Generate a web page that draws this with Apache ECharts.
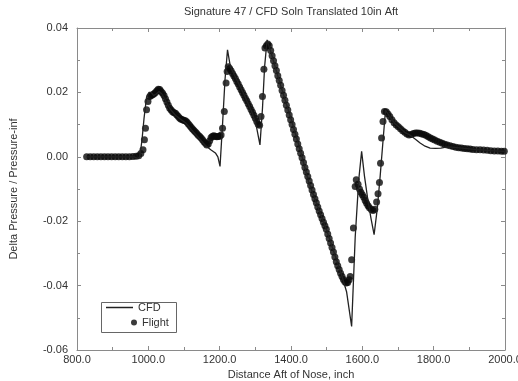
<!DOCTYPE html>
<html>
<head>
<meta charset="utf-8">
<script src="https://cdn.jsdelivr.net/npm/echarts@6/dist/echarts.min.js"></script>
<style>
html,body{margin:0;padding:0;background:#fff;}
#chart{width:518px;height:381px;}
</style>
</head>
<body>
<div id="chart"></div>
<script>
var titleText = 'Signature 47 / CFD Soln Translated 10in Aft';
var xAxisName = 'Distance Aft of Nose, inch';
var yAxisName = 'Delta Pressure / Pressure-inf';
var seriesNames = ['CFD', 'Flight'];

var cfdX = [827, 900, 960, 970, 976, 982, 988, 995, 1002, 1008, 1015, 1022, 1030, 1038, 1048, 1060, 1075, 1090, 1105, 1120, 1140, 1160, 1175, 1188, 1195, 1201, 1208, 1215, 1222, 1230, 1250, 1270, 1290, 1302, 1313, 1320, 1326, 1333, 1345, 1370, 1400, 1425, 1450, 1475, 1500, 1520, 1540, 1556, 1570, 1580, 1590, 1598, 1606, 1615, 1624, 1633, 1642, 1650, 1658, 1665, 1675, 1690, 1705, 1720, 1733, 1748, 1762, 1776, 1790, 1805, 1820, 1835, 1850, 1880, 1920, 1960, 2000];
var cfdY = [0.0, 0.0, 0.0, -0.0005, 0.0, 0.005, 0.012, 0.0185, 0.0200, 0.0200, 0.0190, 0.0195, 0.0203, 0.0195, 0.0175, 0.0150, 0.0130, 0.0117, 0.0105, 0.0085, 0.0060, 0.0035, 0.0022, 0.0012, 0.0, -0.003, 0.010, 0.024, 0.0332, 0.0280, 0.0235, 0.0190, 0.0140, 0.0100, 0.0037, 0.0150, 0.0280, 0.0363, 0.0320, 0.0225, 0.0118, 0.0025, -0.0080, -0.0155, -0.0228, -0.0295, -0.0360, -0.0420, -0.0527, -0.0250, -0.0071, 0.0017, -0.0060, -0.0130, -0.0190, -0.0242, -0.0160, -0.0060, 0.0050, 0.0145, 0.0128, 0.0105, 0.0090, 0.0075, 0.0068, 0.0055, 0.0043, 0.0033, 0.0027, 0.0026, 0.0027, 0.0030, 0.0030, 0.0027, 0.0022, 0.0019, 0.0017];

// Flight measurements: [distance (in), dP/P]
var flightPoints = [
  [827, 0.0], [837, 0.0], [847, 0.0], [857, 0.0], [867, 0.0], [877, 0.0], [887, 0.0], [897, 0.0],
  [907, 0.0], [917, 0.0], [927, 0.0], [937, 0.0], [947, 0.0], [957, 0.0001], [966, 0.0002], [973, 0.0003],
  [979, 0.0010], [985, 0.0022], [989, 0.0053], [992, 0.0089], [995, 0.0146], [999, 0.0172],
  [1004, 0.0187], [1008, 0.0190], [1012, 0.0193], [1016, 0.0196], [1020, 0.0200], [1024, 0.0205],
  [1028, 0.0210], [1032, 0.0209], [1036, 0.0203], [1040, 0.0197], [1044, 0.0190], [1048, 0.0180],
  [1052, 0.0170], [1056, 0.0160], [1060, 0.0151], [1064, 0.0145], [1068, 0.0140], [1072, 0.0137],
  [1076, 0.0135], [1080, 0.0130], [1084, 0.0125], [1088, 0.0120], [1092, 0.0117], [1096, 0.0115],
  [1100, 0.0113], [1104, 0.0112], [1108, 0.0108], [1112, 0.0103], [1116, 0.0097], [1120, 0.0092],
  [1124, 0.0086], [1128, 0.0082], [1132, 0.0077], [1136, 0.0072], [1140, 0.0067], [1144, 0.0063],
  [1148, 0.0058], [1152, 0.0053], [1156, 0.0047], [1160, 0.0042], [1164, 0.0037], [1168, 0.0040],
  [1172, 0.0050], [1176, 0.0060], [1180, 0.0064], [1184, 0.0065], [1188, 0.0063], [1192, 0.0062],
  [1196, 0.0063], [1200, 0.0064], [1204, 0.0068], [1208, 0.0089], [1213, 0.0141], [1218, 0.0229],
  [1221, 0.0265], [1224, 0.0280], [1228, 0.0274], [1232, 0.0267], [1236, 0.0259], [1240, 0.0251],
  [1244, 0.0243], [1248, 0.0234], [1252, 0.0226], [1256, 0.0217], [1260, 0.0208], [1264, 0.0200],
  [1268, 0.0191], [1272, 0.0182], [1276, 0.0174], [1280, 0.0165], [1284, 0.0156], [1288, 0.0147],
  [1292, 0.0138], [1296, 0.0129], [1300, 0.0120], [1304, 0.0110], [1308, 0.0101], [1312, 0.0098],
  [1316, 0.0125], [1320, 0.0187], [1324, 0.0272], [1327, 0.0338], [1331, 0.0345], [1335, 0.0350],
  [1339, 0.0345], [1343, 0.0330], [1347, 0.0314], [1351, 0.0298], [1355, 0.0283], [1359, 0.0268],
  [1363, 0.0252], [1367, 0.0237], [1371, 0.0222], [1375, 0.0206], [1379, 0.0191], [1383, 0.0176],
  [1387, 0.0160], [1391, 0.0145], [1395, 0.0130], [1399, 0.0115], [1403, 0.0100], [1407, 0.0085],
  [1411, 0.0070], [1415, 0.0055], [1419, 0.0040], [1423, 0.0025], [1427, 0.0011], [1431, -0.0003],
  [1435, -0.0018], [1439, -0.0033], [1443, -0.0047], [1447, -0.0061], [1451, -0.0075], [1455, -0.0089],
  [1459, -0.0103], [1463, -0.0117], [1467, -0.0130], [1471, -0.0143], [1475, -0.0156], [1479, -0.0168],
  [1483, -0.0180], [1487, -0.0192], [1491, -0.0203], [1495, -0.0214], [1499, -0.0225], [1503, -0.0240],
  [1507, -0.0254], [1511, -0.0268], [1515, -0.0282], [1519, -0.0296], [1523, -0.0311], [1527, -0.0326],
  [1531, -0.0338], [1535, -0.0350], [1539, -0.0362], [1543, -0.0372], [1547, -0.0381], [1551, -0.0388],
  [1555, -0.0392], [1559, -0.0390], [1563, -0.0382], [1566, -0.0372], [1570, -0.0320], [1575, -0.0221],
  [1580, -0.0092], [1583, -0.0071], [1588, -0.0085], [1592, -0.0100], [1596, -0.0110], [1600, -0.0118],
  [1604, -0.0126], [1608, -0.0136], [1612, -0.0144], [1616, -0.0152], [1620, -0.0158], [1625, -0.0164],
  [1630, -0.0167], [1635, -0.0163], [1640, -0.0140], [1644, -0.0115], [1648, -0.0080], [1651, -0.0020],
  [1654, 0.0058], [1658, 0.0110], [1662, 0.0141], [1667, 0.0140], [1672, 0.0133], [1677, 0.0125],
  [1683, 0.0115], [1689, 0.0106], [1695, 0.0099], [1701, 0.0093], [1707, 0.0087], [1713, 0.0081],
  [1719, 0.0076], [1725, 0.0071], [1731, 0.0068], [1737, 0.0069], [1743, 0.0072], [1749, 0.0074],
  [1755, 0.0074], [1761, 0.0073], [1767, 0.0071], [1773, 0.0069], [1779, 0.0066], [1785, 0.0062],
  [1791, 0.0058], [1797, 0.0055], [1803, 0.0052], [1810, 0.0048], [1817, 0.0045], [1824, 0.0042],
  [1831, 0.0039], [1838, 0.0037], [1846, 0.0034], [1854, 0.0032], [1862, 0.0030], [1870, 0.0028],
  [1878, 0.0027], [1886, 0.0026], [1894, 0.0025], [1902, 0.0024], [1910, 0.0023], [1920, 0.0022],
  [1930, 0.0022], [1940, 0.0021], [1950, 0.0020], [1960, 0.0019], [1970, 0.0018], [1980, 0.0018],
  [1990, 0.0017], [1998, 0.0017]
];

var xMin = 800, xMax = 2000, xStep = 200;
var yMin = -0.06, yMax = 0.04, yStep = 0.02;

function pairs(xs, ys) { return xs.map(function (x, i) { return [x, ys[i]]; }); }

var FONT = '"Liberation Sans", Arial, sans-serif';
var TXT = '#333';
var AX = '#8a8a8a';

var chart = echarts.init(document.getElementById('chart'), null, {renderer: 'canvas'});

function xAx(pos, show) {
  return {
    type: 'value', position: pos, min: xMin, max: xMax, interval: xStep,
    name: show ? xAxisName : '', nameLocation: 'middle', nameGap: 19,
    nameTextStyle: {fontFamily: FONT, fontSize: 11, color: TXT},
    axisLine: {show: true, onZero: false, lineStyle: {color: AX, width: 1}},
    axisTick: {show: true, inside: true, length: 4, lineStyle: {color: AX}},
    minorTick: {show: true, splitNumber: 2, length: 3, lineStyle: {color: AX}},
    axisLabel: {show: show, fontFamily: FONT, fontSize: 11, color: TXT, margin: 4,
      formatter: function (v) { return v.toFixed(1); }},
    splitLine: {show: false}
  };
}
function yAx(pos, show) {
  return {
    type: 'value', position: pos, min: yMin, max: yMax, interval: yStep,
    name: show ? yAxisName : '', nameLocation: 'middle', nameGap: 58,
    nameTextStyle: {fontFamily: FONT, fontSize: 11, color: TXT},
    axisLine: {show: true, onZero: false, lineStyle: {color: AX, width: 1}},
    axisTick: {show: true, inside: true, length: 4, lineStyle: {color: AX}},
    minorTick: {show: true, splitNumber: 2, length: 3, lineStyle: {color: AX}},
    axisLabel: {show: show, fontFamily: FONT, fontSize: 11, color: TXT, margin: 9,
      formatter: function (v) { return v.toFixed(2); }},
    splitLine: {show: false}
  };
}

chart.setOption({
  animation: false,
  backgroundColor: '#fff',
  title: {
    text: titleText, left: 291, top: 6, textAlign: 'center', padding: 0,
    textStyle: {fontFamily: FONT, fontSize: 11, fontWeight: 'normal', color: TXT}
  },
  grid: {left: 77, right: 13, top: 28, bottom: 31, containLabel: false, outerBoundsMode: 'none'},
  xAxis: [xAx('bottom', true), xAx('top', false)],
  yAxis: [yAx('left', true), yAx('right', false)],
  legend: [
    {data: [{name: seriesNames[0], icon: 'rect'}], left: 106, top: 302, orient: 'vertical', padding: 0,
      itemWidth: 27, itemHeight: 1.5, itemGap: 4,
      textStyle: {fontFamily: FONT, fontSize: 11, color: TXT}},
    {data: [{name: seriesNames[1], icon: 'circle'}], left: 131, top: 317, orient: 'vertical', padding: 0,
      itemWidth: 6, itemHeight: 6, itemGap: 4,
      textStyle: {fontFamily: FONT, fontSize: 11, color: TXT}}
  ],
  graphic: [{
    type: 'rect', left: 99, top: 300, shape: {x: 0, y: 0, width: 75, height: 30},
    style: {fill: 'none', stroke: '#666', lineWidth: 1}, z: 10
  }],
  series: [
    {name: seriesNames[0], type: 'line', data: pairs(cfdX, cfdY), symbol: 'none',
      lineStyle: {color: '#222', width: 1.3}, itemStyle: {color: '#222'}, z: 3},
    {name: seriesNames[1], type: 'scatter', data: flightPoints, symbol: 'circle',
      symbolSize: 7, itemStyle: {color: '#0a0a0a'}, z: 2}
  ]
});
</script>
</body>
</html>
